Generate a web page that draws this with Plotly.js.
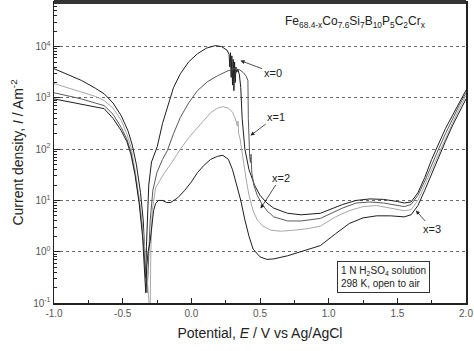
<!DOCTYPE html>
<html><head><meta charset="utf-8">
<script src="https://cdn.plot.ly/plotly-3.0.1.min.js"></script>
<style>html,body{margin:0;padding:0;background:#fff}#c{width:474px;height:351px}</style>
</head><body><div id="c"></div>
<script>
// [E (V vs Ag/AgCl), log10 I (A m^-2)]
const curveX0 = [[-1.0,3.57],[-0.9,3.46],[-0.8,3.34],[-0.7,3.19],[-0.635,3.08],[-0.57,2.9],[-0.51,2.65],[-0.46,2.35],[-0.43,2.08],[-0.40,1.7],[-0.37,1.15],[-0.35,0.6],[-0.338,0.0],[-0.332,-0.5],[-0.327,0.1],[-0.32,0.8],[-0.31,1.3],[-0.29,1.75],[-0.27,1.9],[-0.248,2.05],[-0.21,2.5],[-0.175,2.81],[-0.13,3.2],[-0.08,3.47],[-0.02,3.7],[0.044,3.86],[0.11,3.97],[0.175,4.02],[0.22,4.0],[0.26,3.93],[0.275,3.85],[0.28,3.6],[0.285,3.88],[0.29,3.4],[0.295,3.82],[0.30,3.25],[0.305,3.75],[0.31,3.14],[0.315,3.7],[0.32,3.3],[0.325,3.6],[0.33,3.5],[0.34,3.55],[0.35,3.45],[0.36,3.2],[0.37,2.6],[0.39,2.0],[0.42,1.6],[0.46,1.3],[0.5,1.1],[0.55,0.95],[0.6,0.85],[0.7,0.75],[0.8,0.72],[0.94,0.75],[1.1,0.92],[1.2,1.0],[1.3,1.03],[1.4,1.02],[1.5,0.98],[1.55,0.95],[1.6,0.97],[1.65,1.15],[1.7,1.45],[1.75,1.8],[1.8,2.1],[1.85,2.4],[1.9,2.65],[1.95,2.9],[2.0,3.15]];
const curveX1 = [[-1.0,3.10],[-0.9,3.04],[-0.8,2.98],[-0.7,2.9],[-0.635,2.85],[-0.57,2.68],[-0.51,2.42],[-0.47,2.2],[-0.44,1.95],[-0.41,1.55],[-0.38,1.0],[-0.355,0.4],[-0.335,-0.3],[-0.322,-0.8],[-0.312,-0.2],[-0.30,0.6],[-0.28,1.2],[-0.25,1.55],[-0.21,1.8],[-0.175,1.97],[-0.13,2.3],[-0.08,2.62],[-0.02,2.9],[0.044,3.14],[0.12,3.32],[0.19,3.43],[0.26,3.52],[0.31,3.57],[0.35,3.55],[0.38,3.49],[0.40,3.42],[0.412,3.34],[0.415,2.6],[0.418,2.3],[0.425,1.85],[0.43,1.74],[0.435,1.9],[0.44,1.55],[0.455,1.3],[0.48,1.1],[0.51,0.95],[0.55,0.8],[0.6,0.68],[0.7,0.6],[0.8,0.6],[0.94,0.65],[1.1,0.85],[1.2,0.95],[1.3,0.97],[1.4,0.95],[1.5,0.9],[1.55,0.88],[1.6,0.92],[1.65,1.1],[1.7,1.38],[1.75,1.7],[1.8,2.0],[1.85,2.3],[1.9,2.58],[1.95,2.85],[2.0,3.1]];
const curveX2 = [[-1.0,3.28],[-0.9,3.2],[-0.8,3.12],[-0.7,3.03],[-0.635,2.95],[-0.57,2.8],[-0.51,2.56],[-0.47,2.3],[-0.44,2.05],[-0.41,1.6],[-0.38,1.05],[-0.355,0.5],[-0.33,-0.2],[-0.31,-0.9],[-0.30,-1.3],[-0.295,0.0],[-0.285,0.8],[-0.26,1.25],[-0.2,1.52],[-0.14,1.75],[-0.08,2.0],[-0.02,2.22],[0.044,2.42],[0.1,2.6],[0.14,2.71],[0.19,2.8],[0.23,2.83],[0.27,2.8],[0.30,2.72],[0.32,2.6],[0.335,2.45],[0.34,2.55],[0.345,2.3],[0.355,2.2],[0.365,2.0],[0.38,1.75],[0.40,1.4],[0.42,1.1],[0.45,0.8],[0.48,0.62],[0.52,0.5],[0.58,0.42],[0.65,0.4],[0.75,0.42],[0.85,0.45],[0.94,0.5],[1.05,0.68],[1.15,0.8],[1.25,0.88],[1.35,0.9],[1.45,0.85],[1.55,0.8],[1.6,0.82],[1.65,1.0],[1.7,1.3],[1.75,1.6],[1.8,1.92],[1.85,2.22],[1.9,2.5],[1.95,2.78],[2.0,3.05]];
const curveX3 = [[-1.0,2.98],[-0.9,2.93],[-0.8,2.88],[-0.7,2.83],[-0.635,2.79],[-0.57,2.6],[-0.51,2.36],[-0.47,2.15],[-0.44,1.9],[-0.41,1.5],[-0.38,0.95],[-0.355,0.3],[-0.34,-0.4],[-0.332,-0.8],[-0.325,-0.3],[-0.315,0.0],[-0.30,0.2],[-0.29,0.47],[-0.275,0.8],[-0.26,0.94],[-0.24,1.0],[-0.21,1.0],[-0.18,0.96],[-0.15,0.96],[-0.10,1.05],[-0.05,1.19],[0.0,1.36],[0.044,1.54],[0.09,1.68],[0.14,1.8],[0.19,1.86],[0.23,1.88],[0.27,1.8],[0.30,1.6],[0.33,1.3],[0.36,1.0],[0.39,0.62],[0.42,0.3],[0.45,0.05],[0.5,-0.1],[0.55,-0.15],[0.6,-0.14],[0.7,-0.08],[0.8,0.0],[0.94,0.12],[1.05,0.35],[1.15,0.55],[1.25,0.66],[1.35,0.7],[1.45,0.7],[1.55,0.68],[1.6,0.72],[1.65,0.9],[1.7,1.2],[1.75,1.52],[1.8,1.85],[1.85,2.15],[1.9,2.45],[1.95,2.72],[2.0,2.98]];

const seriesNames = ['x=0','x=1','x=2','x=3'];
const seriesColors = ['#1e1e1e','#5a5a5a','#a8a8a8','#1e1e1e'];
const yTickVals = [0.1,1,10,100,1000,10000];
const yTickText = ['10<sup>-1</sup>','10<sup>0</sup>','10<sup>1</sup>','10<sup>2</sup>','10<sup>3</sup>','10<sup>4</sup>'];
const xTickVals = [-1.0,-0.5,0.0,0.5,1.0,1.5,2.0];
const xTickText = ['-1.0','-0.5','0.0','0.5','1.0','1.5','2.0'];

const curves = [curveX0, curveX1, curveX2, curveX3];
const traces = curves.map((c,i)=>({
  type:'scatter', mode:'lines', name:seriesNames[i],
  x:c.map(p=>p[0]), y:c.map(p=>Math.pow(10,p[1])),
  line:{color:seriesColors[i], width:1}
}));

const yMinor = [];
for (let k=-1;k<=4;k++) for (let m=2;m<=9;m++) yMinor.push(m*Math.pow(10,k));

const F = 'Arial, "Liberation Sans", sans-serif';
const layout = {
  width:474, height:351,
  margin:{l:54, r:8, t:2, b:48},
  paper_bgcolor:'#fff', plot_bgcolor:'#fff',
  showlegend:false,
  font:{family:F, color:'#333'},
  xaxis:{range:[-1,2], tickmode:'array', tickvals:xTickVals, ticktext:xTickText,
    ticks:'inside', ticklen:5, tickwidth:1, tickcolor:'#222',
    minor:{ticks:'inside', ticklen:3, dtick:0.25, tick0:0, tickcolor:'#222'},
    showgrid:false, zeroline:false, showline:true, linecolor:'#222', linewidth:1.5, mirror:true,
    tickfont:{size:10, color:'#555'},
    title:{text:'Potential, <i>E</i> / V vs Ag/AgCl', font:{size:14, color:'#222'}, standoff:10}},
  yaxis:{type:'log', range:[-1,4.87], tickmode:'array', tickvals:yTickVals, ticktext:yTickText,
    ticks:'inside', ticklen:6, tickwidth:1, tickcolor:'#222',
    minor:{ticks:'inside', ticklen:3, tickmode:'array', tickvals:yMinor, tickcolor:'#222', showgrid:false},
    showgrid:true, gridcolor:'#444', gridwidth:0.8, griddash:'3px,3px',
    zeroline:false, showline:true, linecolor:'#222', linewidth:1.5, mirror:true,
    tickfont:{size:10, color:'#555'},
    title:{text:'Current density, <i>I</i> / Am<sup>-2</sup>', font:{size:14, color:'#222'}, standoff:6}},
  shapes:[{type:'line', xref:'paper', yref:'paper', x0:0, x1:1, y0:1, y1:1, line:{color:'#333', width:4}}],
  annotations:[
    {xref:'paper', yref:'paper', x:0.555, y:0.935, xanchor:'left', yanchor:'middle', showarrow:false,
     text:'Fe<sub>68.4-x</sub>Co<sub>7.6</sub>Si<sub>7</sub>B<sub>10</sub>P<sub>5</sub>C<sub>2</sub>Cr<sub>x</sub>',
     font:{size:12, color:'#222'}},
    {x:0.358, y:3.727, xref:'x', yref:'y', text:'x=0', showarrow:true, ax:32, ay:12, arrowhead:2, arrowsize:1, arrowwidth:0.8, arrowcolor:'#222', standoff:0, font:{size:11, color:'#222'}},
    {x:0.431, y:2.265, xref:'x', yref:'y', text:'x=1', showarrow:true, ax:25, ay:-19, arrowhead:2, arrowsize:1, arrowwidth:0.8, arrowcolor:'#222', standoff:0, font:{size:11, color:'#222'}},
    {x:0.504, y:0.842, xref:'x', yref:'y', text:'x=2', showarrow:true, ax:20, ay:-31, arrowhead:2, arrowsize:1, arrowwidth:0.8, arrowcolor:'#222', standoff:0, font:{size:11, color:'#222'}},
    {x:1.635, y:0.803, xref:'x', yref:'y', text:'x=3', showarrow:true, ax:16, ay:18, arrowhead:2, arrowsize:1, arrowwidth:0.8, arrowcolor:'#222', standoff:0, font:{size:11, color:'#222'}},
    {xref:'paper', yref:'paper', x:0.799, y:0.086, xanchor:'center', yanchor:'middle', showarrow:false,
     text:'1 N H<sub>2</sub>SO<sub>4</sub> solution<br>298 K, open to air', align:'left',
     bordercolor:'#333', borderwidth:1, borderpad:3, bgcolor:'#fff', font:{size:10, color:'#222'}}
  ]
};
Plotly.newPlot('c', traces, layout, {staticPlot:true});
</script></body></html>
